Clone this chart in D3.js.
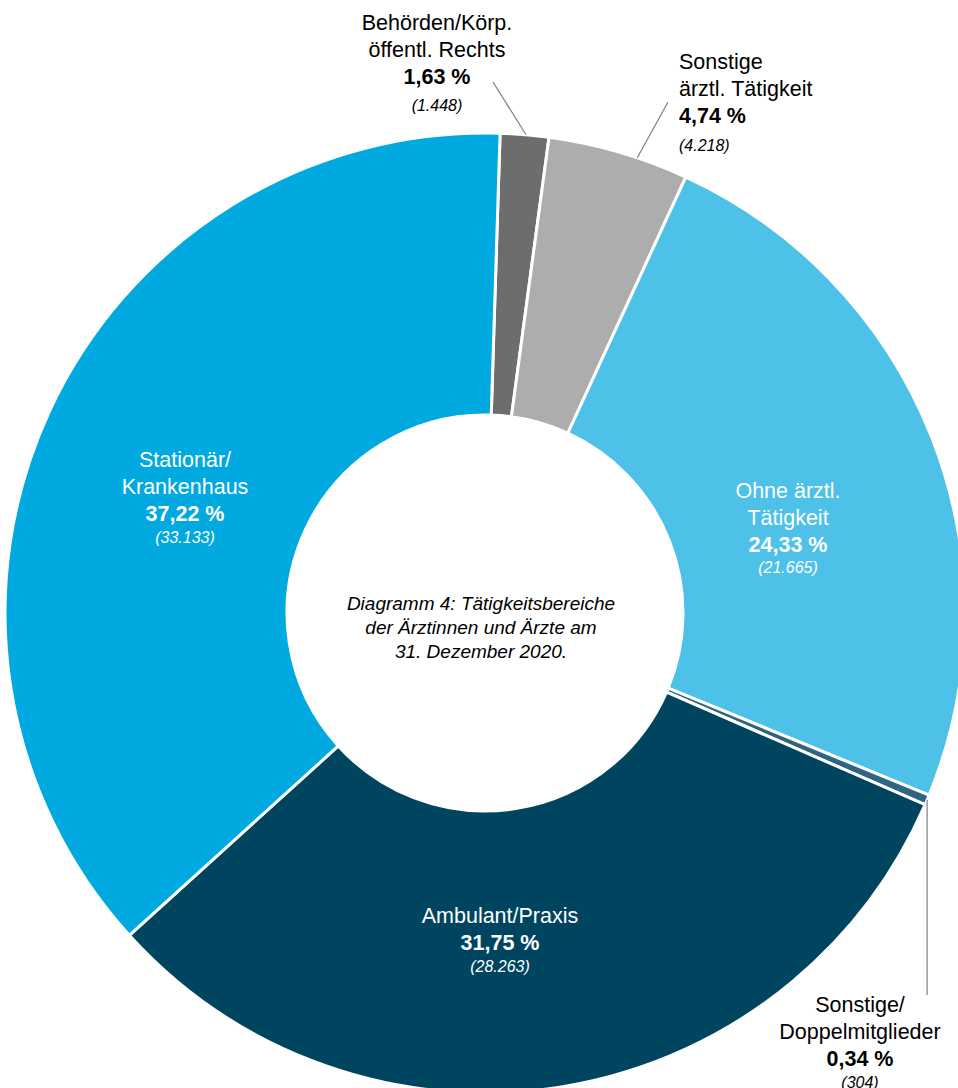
<!DOCTYPE html>
<html>
<head>
<meta charset="utf-8">
<script src="https://cdn.jsdelivr.net/npm/d3@7"></script>
<style>
  body { margin: 0; background: #fff; }
  svg { display: block; font-family: "Liberation Sans", Arial, sans-serif; }
</style>
</head>
<body>
<div id="chart"></div>
<script>
// data
const categories = [
  ["Behörden/Körp.", "öffentl. Rechts"],
  ["Sonstige", "ärztl. Tätigkeit"],
  ["Ohne ärztl.", "Tätigkeit"],
  ["Sonstige/", "Doppelmitglieder"],
  ["Ambulant/Praxis"],
  ["Stationär/", "Krankenhaus"]
];
const percents = [1.63, 4.74, 24.33, 0.34, 31.75, 37.22];
const counts = [1448, 4218, 21665, 304, 28263, 33133];
const colors = ["#6d6d6d", "#adadad", "#4dc1e8", "#2f6580", "#00455f", "#00a9df"];
const centerText = ["Diagramm 4: Tätigkeitsbereiche", "der Ärztinnen und Ärzte am", "31. Dezember 2020."];

const width = 958, height = 1088;
const cx = 485, cy = 613;
const outerR = 480, innerR = 198;
const offset = 1.8 * Math.PI / 180;

// label layout: x, first line y, anchor, text colour, gap to italic line, leader
const layout = [
  {x: 437, y: 23, anchor: "middle", fill: "#000", gap: 28, leader: {x: 493, y: 82, deg: 4.9}},
  {x: 679, y: 62, anchor: "start", fill: "#000", gap: 29, leader: {x: 668, y: 102, deg: 18.5}},
  {x: 788, y: 491, anchor: "middle", fill: "#fff", gap: 22},
  {x: 860, y: 1005, anchor: "middle", fill: "#000", gap: 23, leader: {vertical: true, y: 995}},
  {x: 500, y: 916, anchor: "middle", fill: "#fff", gap: 23},
  {x: 185, y: 460, anchor: "middle", fill: "#fff", gap: 23}
];

const de = d3.formatLocale({decimal: ",", thousands: ".", grouping: [3], currency: ["", " €"]});
const fmtPct = de.format(".2f");
const fmtNum = de.format(",d");

const svg = d3.select("#chart")
  .append("svg")
  .attr("width", width)
  .attr("height", height);

const g = svg.append("g")
  .attr("transform", "translate(" + cx + "," + cy + ")");

const pie = d3.pie()
  .sort(null)
  .value(d => d)
  .startAngle(offset)
  .endAngle(2 * Math.PI + offset);

const arc = d3.arc()
  .innerRadius(innerR)
  .outerRadius(outerR);

const arcs = pie(percents);

g.selectAll("path.slice")
  .data(arcs)
  .join("path")
  .attr("class", "slice")
  .attr("d", arc)
  .attr("fill", (d, i) => colors[i])
  .attr("stroke", "#fff")
  .attr("stroke-width", 3)
  .attr("stroke-linejoin", "miter");

// leader lines
function polar(deg, r) {
  const a = deg * Math.PI / 180;
  return [cx + r * Math.sin(a), cy - r * Math.cos(a)];
}

layout.forEach((l, i) => {
  if (!l.leader) return;
  let p1, p2;
  if (l.leader.vertical) {
    const mid = (arcs[i].startAngle + arcs[i].endAngle) / 2 * 180 / Math.PI;
    p2 = polar(mid, outerR);
    p1 = [p2[0], l.leader.y];
  } else {
    p1 = [l.leader.x, l.leader.y];
    p2 = polar(l.leader.deg, outerR);
  }
  svg.append("line")
    .attr("x1", p1[0]).attr("y1", p1[1])
    .attr("x2", p2[0]).attr("y2", p2[1])
    .attr("stroke", "#7f7f7f")
    .attr("stroke-width", 1.2);
});

// labels
layout.forEach((l, i) => {
  const t = svg.append("g")
    .attr("fill", l.fill)
    .attr("text-anchor", l.anchor);
  let y = l.y;
  categories[i].forEach(line => {
    t.append("text")
      .attr("x", l.x).attr("y", y)
      .attr("dominant-baseline", "central")
      .style("font-size", "21.5px")
      .text(line);
    y += 27;
  });
  t.append("text")
    .attr("x", l.x).attr("y", y)
    .attr("dominant-baseline", "central")
    .style("font-size", "21.5px")
    .style("font-weight", "bold")
    .text(fmtPct(percents[i]) + " %");
  y += l.gap;
  t.append("text")
    .attr("x", l.x).attr("y", y)
    .attr("dominant-baseline", "central")
    .style("font-size", "16px")
    .style("font-style", "italic")
    .text("(" + fmtNum(counts[i]) + ")");
});

// centre text
svg.append("g")
  .attr("text-anchor", "middle")
  .selectAll("text")
  .data(centerText)
  .join("text")
  .attr("x", 481)
  .attr("y", (d, i) => 603 + i * 24)
  .attr("dominant-baseline", "central")
  .style("font-size", "19px")
  .style("font-style", "italic")
  .text(d => d);
</script>
</body>
</html>
